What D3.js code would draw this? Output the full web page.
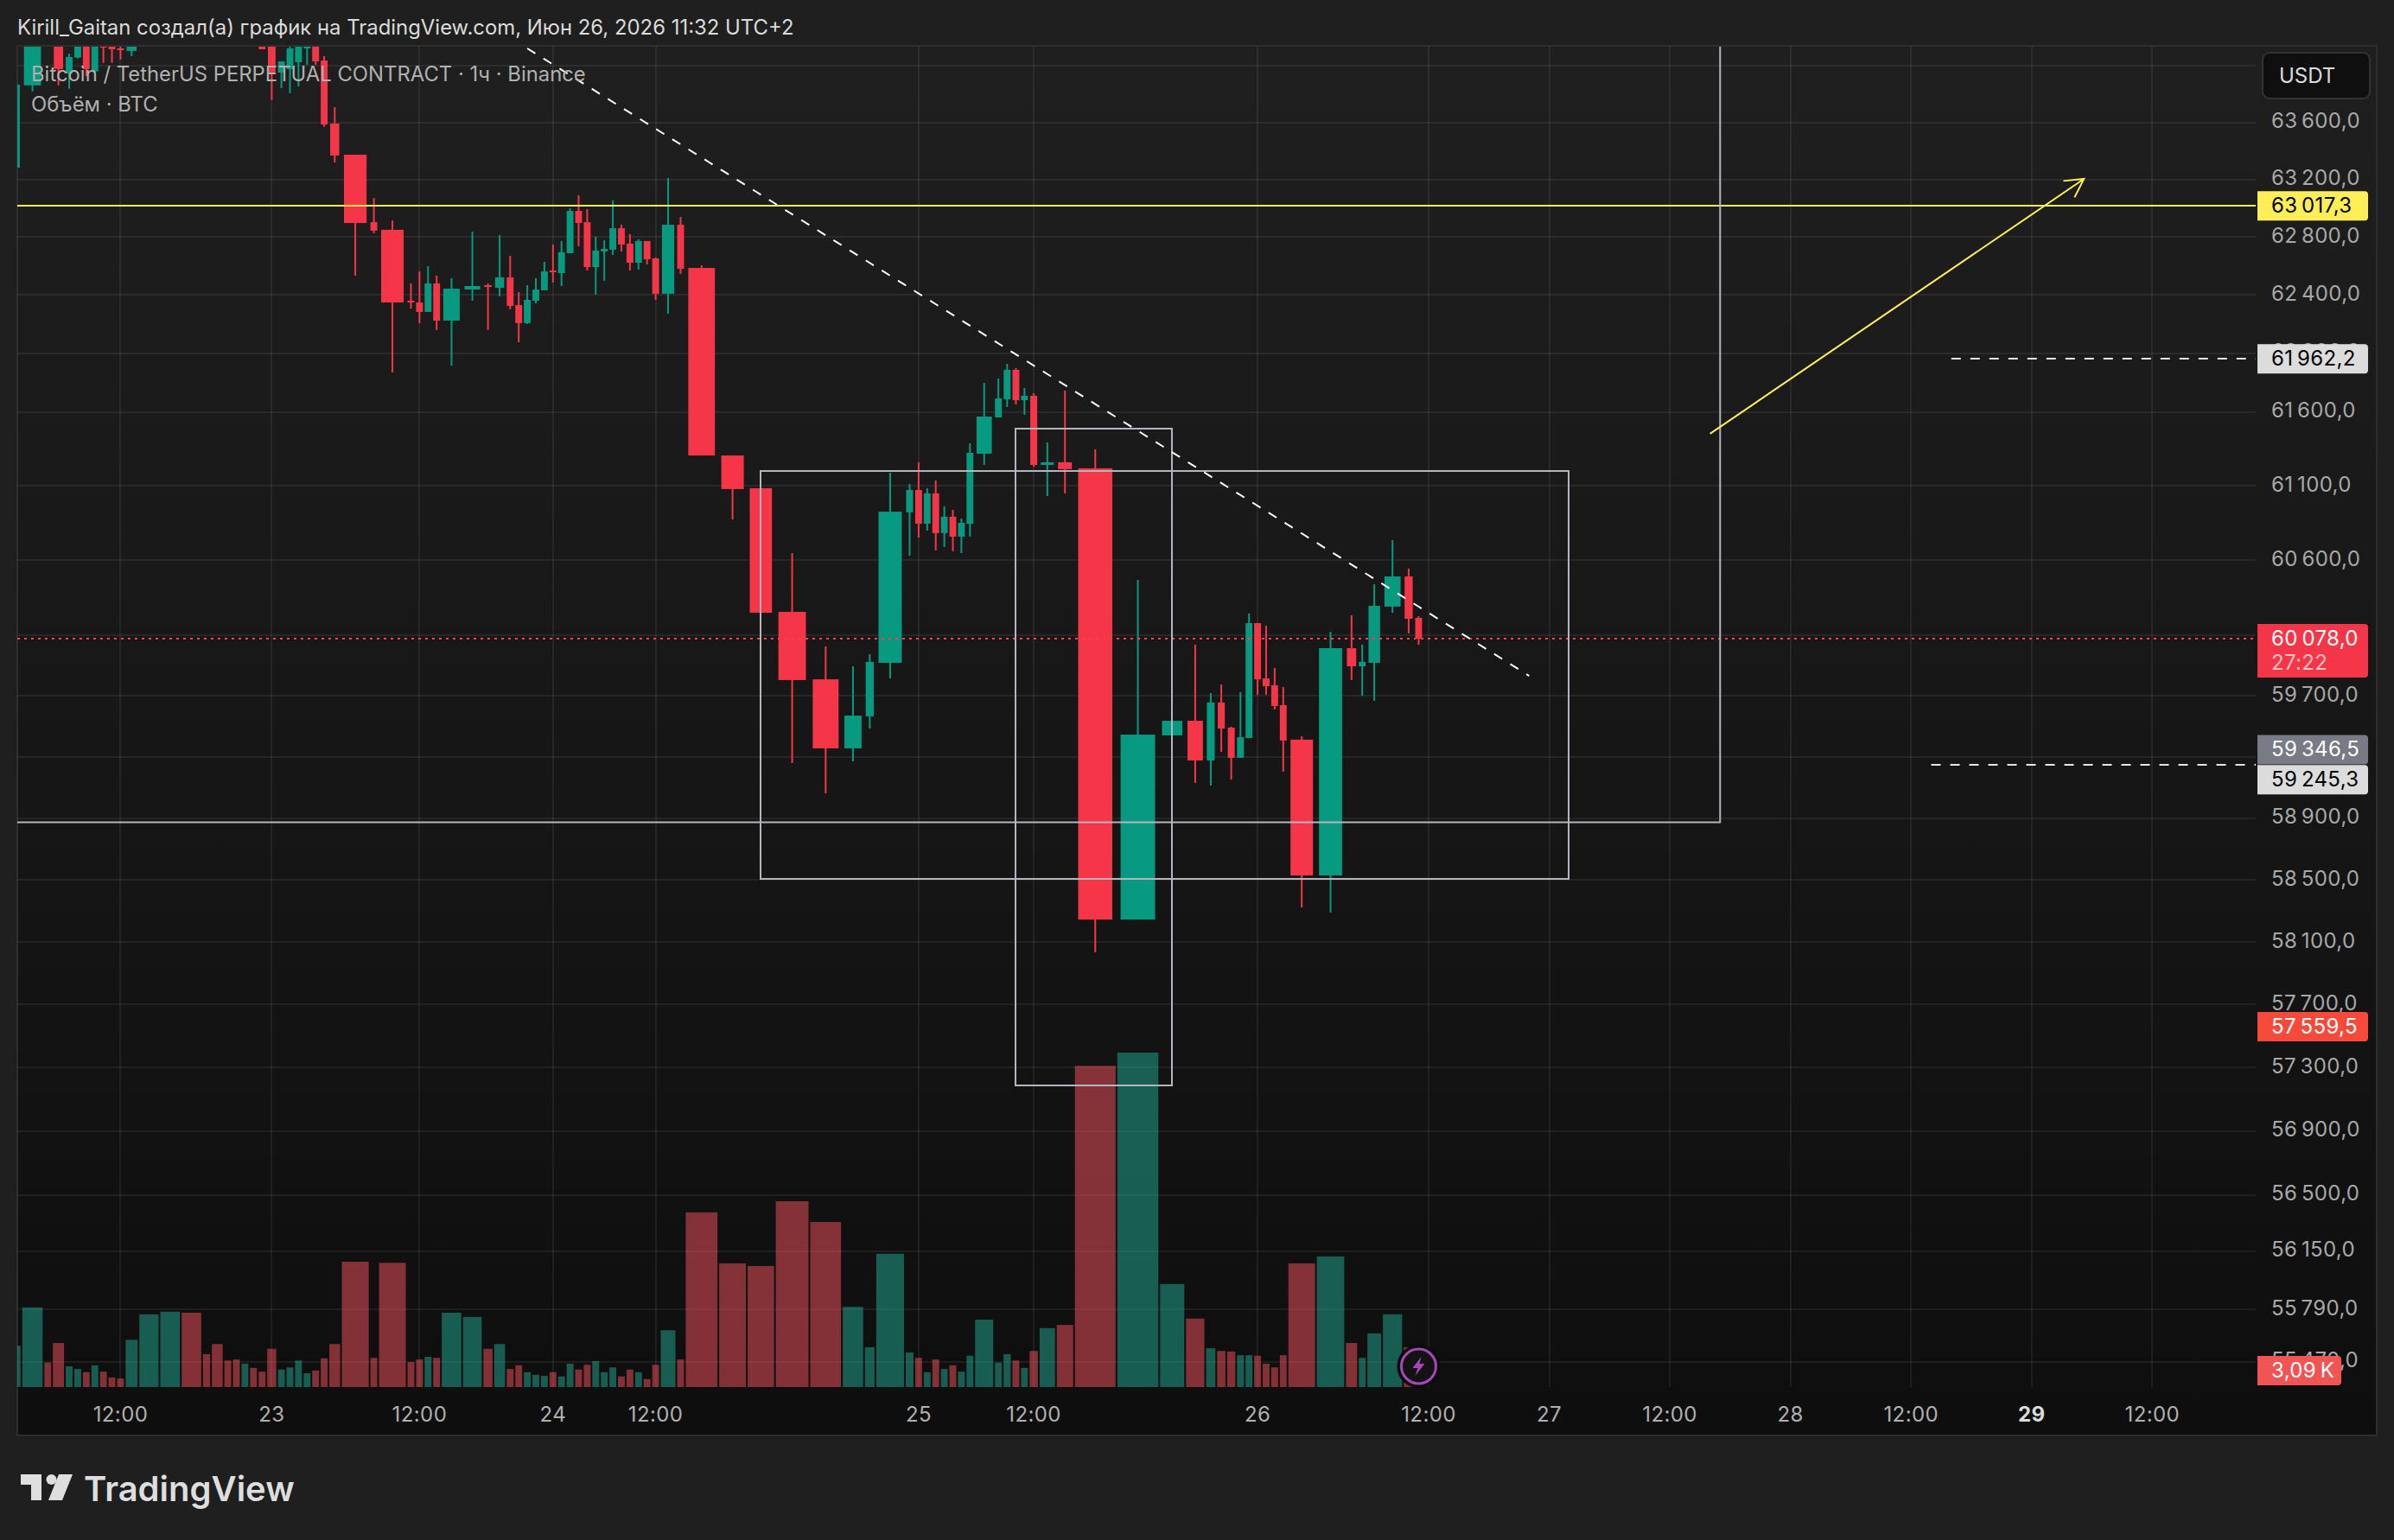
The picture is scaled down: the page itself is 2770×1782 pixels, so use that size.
<!DOCTYPE html>
<html>
<head>
<meta charset="utf-8">
<script src="https://d3js.org/d3.v7.min.js"></script>
<style>
  html, body { margin: 0; padding: 0; background: #1f1f1f; }
  svg { display: block; }
  text { font-family: Inter, "Noto Sans", sans-serif; }
</style>
</head>
<body>
<svg width="2770" height="1782"></svg>
<script>
// hourly BTC candles, first bar is Jun 22 02:00
let opens = [63284,63861,64350,64250,63945,64057,64150,63959,64170,64140,
  64122,64104,64260,64500,64760,64520,64460,64340,64290,64240,
  64300,64240,64240,63951,63975,64024,64122,64160,64036,63592,
  63374,62904,62851,62361,62349,62284,62480,62224,62438,62468,
  62450,62522,62331,62207,62361,62433,62569,62551,62689,62982,
  62904,62593,62701,62713,62862,62755,62623,62773,62653,62409,
  62886,62587,61305,61084,60256,59809,59355,59565,59918,60921,
  61072,60845,61049,60782,60892,60758,60845,61317,61563,61686,
  61887,61680,61710,61241,61259,61218,58244,59440,59536,59276,
  59656,59491,59293,59423,60181,59815,59770,59639,59412,58528,
  60015,59895,59918,60291,60492,60216]
let closes = [63866,64220,64280,63976,64061,64200,63975,64160,64128,64116,
  64114,64180,64500,64760,64520,64460,64340,64290,64240,64300,
  64240,64116,63945,64030,64122,64180,64160,64030,63586,63368,
  62898,62845,62349,62349,62284,62480,62224,62444,62462,62456,
  62522,62325,62207,62367,62438,62563,62557,62695,62982,62898,
  62593,62707,62719,62862,62749,62623,62773,62647,62409,62886,
  62581,61305,61078,60250,59804,59355,59570,59924,60926,61072,
  60845,61049,60782,60892,60758,60851,61323,61569,61692,61887,
  61680,61710,61241,61259,61212,58244,59445,59536,59276,59656,
  59485,59293,59428,60181,59809,59764,59633,59406,58528,60015,
  59895,59924,60296,60492,60210,60078]
let highs = [63866,64300,64420,64280,64085,64260,64190,64200,64210,64200,
  64170,64220,64580,64800,64800,64580,64500,64400,64340,64330,
  64340,64260,64260,64030,64150,64220,64190,64190,64067,63707,
  63374,63072,62916,62480,62563,62599,62534,62516,62839,62480,
  62815,62671,62421,62468,62516,62629,62749,62773,63000,63091,
  62994,62803,62779,63055,62886,62821,62785,62773,62659,63211,
  62940,62605,61305,61084,60648,60027,59895,59975,61188,61113,
  61259,61084,61136,60962,60938,60880,61387,61798,61828,61928,
  61899,61763,61728,61393,61745,61346,60469,59536,60038,59718,
  59775,59497,59724,60245,60181,60164,59884,59758,59434,60124,
  60233,60038,60440,60735,60544,60227]
let lows = [63284,63819,64250,63861,63837,64051,63926,63950,64020,64020,
  64043,64067,64200,64440,64450,64420,64300,64250,64200,64190,
  64210,64116,63758,63841,63806,63853,64006,64006,63570,63320,
  62534,62827,61869,62307,62207,62284,62159,61916,62361,62159,
  62391,62302,62076,62201,62343,62433,62486,62462,62689,62737,
  62569,62403,62498,62677,62701,62569,62575,62611,62367,62272,
  62546,61305,60874,60250,59259,59061,59270,59485,59815,60631,
  60752,60799,60666,60689,60660,60648,60758,61241,61563,61634,
  61651,61581,61229,61031,61049,58034,58244,59440,59129,59112,
  59332,59151,59293,59423,59707,59707,59611,59202,58322,58289,
  59804,59701,59667,60250,60113,60038]
// volume in thousands of BTC
let volumes = [7.8,15.0,4.6,8.3,3.9,3.4,2.8,4.1,2.9,1.8,
  1.6,8.9,13.7,14.2,14.0,6.2,8.1,5.0,5.2,4.4,
  3.6,2.9,7.2,3.3,3.7,5.0,2.6,3.1,5.4,8.1,
  23.6,5.5,23.4,4.7,5.2,5.7,5.5,14.0,13.2,7.2,
  8.1,3.4,4.1,2.8,2.3,2.1,2.8,2.0,4.4,3.3,
  4.2,4.9,2.8,3.7,2.0,3.3,2.8,1.5,4.2,10.7,
  5.2,32.9,23.3,22.8,35.0,31.1,15.1,7.5,25.1,6.5,
  5.5,2.8,5.2,3.4,4.1,2.9,5.9,12.7,4.6,6.2,
  5.0,3.6,6.8,11.1,11.7,60.5,63.0,19.4,12.9,7.3,
  6.8,6.7,6.0,6.0,5.9,4.4,3.7,6.0,23.3,24.6,
  8.3,5.5,10.1,13.7,7.5,3.09]

// candle width follows volume on this chart type
let widthVolumes = [0,6.0,7.2,8.2,9,10.7,12.7,14,15,19.4,23.4,25,32.9,35,60,63]
let widthPixels = [7.9,7.9,10.5,12.7,14,17,21,22.6,23.5,28,31,32,36.7,37.9,47,47.5]

let priceTicks = [64000,63600,63200,62800,62400,62000,61600,61100,60600,60100,59700,59300,
  58900,58500,58100,57700,57300,56900,56500,56150,55790,55470]
// these three sit fully under the button and the tags
let coveredTicks = [64000,60100,59300]
let timeTickHours = [10,22,34,46,58,70,82,94,106,118,130,142,154,166,178]
let timeTickLabels = ["12:00","23","12:00","24","12:00","25","12:00","26","12:00","27","12:00","28","12:00","29","12:00"]

// the user's drawings: [hour, price]
let rectA = [[63,61200],[120,58506]]
let rectB = [[80,61488],[87,57187]]
let cornerLine = [[-5,58873],[135,58873],[135,65000]]
let trendLine = [[43,64122],[116,59832]]
let arrowLine = [[134,61452],[171.2,63205]]
let dashedLevels = [[158,61962.2],[156,59245.3]]
let yellowLevel = 63017.3
let lastPrice = 60078.0

let W = 2770, H = 1782
let plot = {left: 20, right: 2610, top: 53, bottom: 1661, frameRight: 2750}
let baseline = 1605

let svg = d3.select('svg')
let defs = svg.append('defs')

let grad = defs.append('linearGradient').attr('id', 'panelBg')
  .attr('x1', 0).attr('y1', 0).attr('x2', 0).attr('y2', 1)
grad.append('stop').attr('offset', 0).attr('stop-color', '#1f1f1f')
grad.append('stop').attr('offset', 1).attr('stop-color', '#0e0e0e')

defs.append('clipPath').attr('id', 'plotClip').append('rect')
  .attr('x', plot.left).attr('y', plot.top + 1)
  .attr('width', plot.right - plot.left).attr('height', plot.bottom - plot.top)

// scales
let y = d3.scaleLog().domain([63600, 55470]).range([141.7, 1575.7])
let yVol = d3.scaleLinear().domain([0, 63]).range([baseline, 1218])
let slotWidth = d3.scaleLinear().domain(widthVolumes).range(widthPixels).clamp(true)

// running position of every bar along the axis
let gap = 2
let lefts = [], pos = 12
volumes.forEach(function(v) {
  lefts.push(pos)
  pos += slotWidth(v) + gap
})
let centers = volumes.map(function(v, i) { return lefts[i] + slotWidth(v) / 2 })
let hourPx = 11.63
let hoursDomain = volumes.map(function(v, i) { return i }).concat([106, 190])
let firstEmpty = 1653
let x = d3.scaleLinear().domain(hoursDomain)
  .range(centers.concat([firstEmpty, firstEmpty + (190 - 106) * hourPx]))

// background and frame
svg.append('rect').attr('width', W).attr('height', H).attr('fill', '#1f1f1f')
svg.append('rect').attr('x', plot.left).attr('y', plot.top)
  .attr('width', plot.frameRight - plot.left).attr('height', plot.bottom - plot.top)
  .attr('fill', 'url(#panelBg)').attr('stroke', '#2e2e2e').attr('stroke-width', 2)

// grid
let gridColor = 'rgba(255,255,255,0.065)'
svg.append('g').selectAll('line').data(priceTicks).enter().append('line')
  .attr('x1', plot.left).attr('x2', plot.right)
  .attr('y1', function(d) { return Math.round(y(d)) })
  .attr('y2', function(d) { return Math.round(y(d)) })
  .attr('stroke', gridColor).attr('stroke-width', 2)
svg.append('g').selectAll('line').data(timeTickHours).enter().append('line')
  .attr('x1', function(d) { return Math.round(x(d)) })
  .attr('x2', function(d) { return Math.round(x(d)) })
  .attr('y1', plot.top).attr('y2', baseline)
  .attr('stroke', gridColor).attr('stroke-width', 2)

let chart = svg.append('g').attr('clip-path', 'url(#plotClip)')

// volume bars
chart.append('g').selectAll('rect').data(volumes).enter().append('rect')
  .attr('x', function(d, i) { return lefts[i] })
  .attr('width', function(d) { return slotWidth(d) })
  .attr('y', function(d) { return yVol(d) })
  .attr('height', function(d) { return baseline - yVol(d) })
  .attr('fill', function(d, i) { return closes[i] >= opens[i] ? 'rgba(34,171,148,0.5)' : 'rgba(247,82,95,0.5)' })

// candles
let upColor = '#089a80', downColor = '#f43648'
let candleColor = function(i) { return closes[i] >= opens[i] ? upColor : downColor }
let bodyWidth = function(v) {
  let s = slotWidth(v)
  return Math.min(s, Math.max(8, s * 0.84))
}
chart.append('g').selectAll('rect').data(volumes).enter().append('rect')
  .attr('x', function(d, i) { return centers[i] - 1 })
  .attr('width', 2)
  .attr('y', function(d, i) { return y(highs[i]) })
  .attr('height', function(d, i) { return y(lows[i]) - y(highs[i]) })
  .attr('fill', function(d, i) { return candleColor(i) })
chart.append('g').selectAll('rect').data(volumes).enter().append('rect')
  .attr('x', function(d, i) { return centers[i] - bodyWidth(d) / 2 })
  .attr('width', function(d) { return bodyWidth(d) })
  .attr('y', function(d, i) { return y(Math.max(opens[i], closes[i])) })
  .attr('height', function(d, i) { return Math.max(2, Math.abs(y(opens[i]) - y(closes[i]))) })
  .attr('fill', function(d, i) { return candleColor(i) })

// drawings on top of the candles
let drawings = svg.append('g').attr('clip-path', 'url(#plotClip)').attr('fill', 'none').attr('stroke-width', 2)
let lineGen = d3.line().x(function(d) { return x(d[0]) }).y(function(d) { return y(d[1]) })
let grey = '#b4b6be'

drawings.append('line')
  .attr('x1', plot.left).attr('x2', plot.right)
  .attr('y1', Math.round(y(lastPrice))).attr('y2', Math.round(y(lastPrice)))
  .attr('stroke', '#ff3a4c').attr('stroke-dasharray', '3 5')

drawings.append('line')
  .attr('x1', plot.left).attr('x2', plot.right)
  .attr('y1', Math.round(y(yellowLevel))).attr('y2', Math.round(y(yellowLevel)))
  .attr('stroke', '#ffee58')

;[rectA, rectB].forEach(function(r) {
  drawings.append('rect')
    .attr('x', Math.round(x(r[0][0]))).attr('y', Math.round(y(r[0][1])))
    .attr('width', Math.round(x(r[1][0]) - x(r[0][0]))).attr('height', Math.round(y(r[1][1]) - y(r[0][1])))
    .attr('stroke', grey)
})
drawings.append('path').attr('d', lineGen(cornerLine)).attr('stroke', grey)

drawings.append('path').attr('d', lineGen(trendLine))
  .attr('stroke', '#ffffff').attr('stroke-dasharray', '11 11')

dashedLevels.forEach(function(d) {
  drawings.append('line')
    .attr('x1', x(d[0])).attr('x2', plot.right)
    .attr('y1', Math.round(y(d[1]))).attr('y2', Math.round(y(d[1])))
    .attr('stroke', '#e6e6e6').attr('stroke-dasharray', '11 11')
})

// yellow arrow with an open head
let ax = x(arrowLine[0][0]), ay = y(arrowLine[0][1]), bx = x(arrowLine[1][0]), by = y(arrowLine[1][1])
let angle = Math.atan2(by - ay, bx - ax)
let headLen = 24
drawings.append('path').attr('stroke', '#ffee58')
  .attr('d', 'M' + ax + ',' + ay + 'L' + bx + ',' + by +
    'M' + (bx - headLen * Math.cos(angle - 0.5)) + ',' + (by - headLen * Math.sin(angle - 0.5)) +
    'L' + bx + ',' + by +
    'L' + (bx - headLen * Math.cos(angle + 0.5)) + ',' + (by - headLen * Math.sin(angle + 0.5)))

// lightning mark on the last bar
let boltX = x(105), boltY = 1581
let bolt = svg.append('g').attr('transform', 'translate(' + boltX + ',' + boltY + ')')
bolt.append('circle').attr('r', 22).attr('fill', '#131313').attr('stroke', '#0b0b0b').attr('stroke-width', 6)
bolt.append('circle').attr('r', 20).attr('fill', 'none').attr('stroke', '#a845bb').attr('stroke-width', 3)
bolt.append('path').attr('d', 'M3,-11 L-7,2 L-1,2 L-4,11 L7,-3 L1,-3 Z').attr('fill', '#a845bb')

// price axis labels
let ru = d3.formatLocale({decimal: ',', thousands: '\u2009', grouping: [3], currency: ['', '']})
let fmtPrice = ru.format(',.1f')
let labelX = 2628
let axisText = function(sel) {
  return sel.attr('dominant-baseline', 'central').attr('font-size', 24).attr('letter-spacing', 0.35)
}
axisText(svg.append('g').selectAll('text')
  .data(priceTicks.filter(function(d) { return coveredTicks.indexOf(d) < 0 })).enter().append('text'))
  .attr('x', labelX)
  .attr('y', function(d) { return y(d) - 2 })
  .attr('fill', '#a8a8a8')
  .text(function(d) { return fmtPrice(d) })

// time axis labels
svg.append('g').selectAll('text').data(timeTickHours).enter().append('text')
  .attr('x', function(d) { return x(d) })
  .attr('y', 1636.5)
  .attr('text-anchor', 'middle')
  .attr('dominant-baseline', 'central')
  .attr('font-size', 24)
  .attr('letter-spacing', 0.4)
  .attr('font-weight', function(d, i) { return timeTickLabels[i] === '29' ? 700 : 400 })
  .attr('fill', function(d, i) { return timeTickLabels[i] === '29' ? '#dbdbdb' : '#b0b0b0' })
  .text(function(d, i) { return timeTickLabels[i] })

// price tags on the axis
let tags = [
  {text: fmtPrice(63017.3), price: 63017.3, fill: '#ffee58', ink: '#000000', shift: 0},
  {text: fmtPrice(61962.2), price: 61962.2, fill: '#dcdcdc', ink: '#000000', shift: 0},
  {text: fmtPrice(59346.5), price: 59346.5, fill: '#787b86', ink: '#ffffff', shift: 0},
  {text: fmtPrice(59245.3), price: 59245.3, fill: '#dcdcdc', ink: '#000000', shift: 17},
  {text: fmtPrice(57559.5), price: 57559.5, fill: '#f74a3a', ink: '#ffffff', shift: 0}
]
let tagPath = function(x0, y0, w, h) {
  let r = 4
  return 'M' + x0 + ',' + y0 + 'H' + (x0 + w - r) + 'Q' + (x0 + w) + ',' + y0 + ' ' + (x0 + w) + ',' + (y0 + r) +
    'V' + (y0 + h - r) + 'Q' + (x0 + w) + ',' + (y0 + h) + ' ' + (x0 + w - r) + ',' + (y0 + h) + 'H' + x0 + 'Z'
}
tags.forEach(function(t) {
  let cy = y(t.price) + t.shift
  svg.append('path').attr('d', tagPath(2612, cy - 17, 128, 34)).attr('fill', t.fill)
  axisText(svg.append('text')).attr('x', labelX).attr('y', cy - 1).attr('fill', t.ink).text(t.text)
})

// last price with the countdown
let lastY = y(lastPrice)
svg.append('path').attr('d', tagPath(2612, lastY - 17, 128, 62)).attr('fill', '#f43648')
axisText(svg.append('text')).attr('x', labelX).attr('y', lastY - 1).attr('fill', '#ffffff').text(fmtPrice(lastPrice))
axisText(svg.append('text')).attr('x', labelX).attr('y', lastY + 27).attr('fill', '#ffc0c6').text('27:22')

// volume tag
svg.append('path').attr('d', tagPath(2612, yVol(volumes[105]) - 17, 97, 34)).attr('fill', '#f05454')
axisText(svg.append('text')).attr('x', labelX).attr('y', yVol(volumes[105]) - 1).attr('fill', '#ffffff').text('3,09\u2009K')

// currency button
svg.append('rect').attr('x', 2618).attr('y', 61).attr('width', 124).attr('height', 53).attr('rx', 8)
  .attr('fill', '#0f0f0f').attr('stroke', '#333333').attr('stroke-width', 2)
svg.append('text').attr('x', 2637).attr('y', 87).attr('dominant-baseline', 'central')
  .attr('font-size', 24).attr('fill', '#dbdbdb').text('USDT')

// header and legend
svg.append('text').attr('x', 20).attr('y', 31).attr('dominant-baseline', 'central')
  .attr('font-size', 23.9).attr('fill', '#dbdbdb')
  .text('Kirill_Gaitan создал(а) график на TradingView.com, Июн 26, 2026 11:32 UTC+2')
svg.append('text').attr('x', 36).attr('y', 85.5).attr('dominant-baseline', 'central')
  .attr('font-size', 23.85).attr('fill', '#b0b0b0')
  .text('Bitcoin / TetherUS PERPETUAL CONTRACT · 1ч · Binance')
svg.append('text').attr('x', 36).attr('y', 120).attr('dominant-baseline', 'central')
  .attr('font-size', 23.85).attr('fill', '#b0b0b0')
  .text('Объём · BTC')

// logo
let logo = svg.append('g').attr('fill', '#dedede')
logo.append('path').attr('d', 'M24,1706 H48 V1736 H36 V1718 H24 Z')
logo.append('circle').attr('cx', 59.5).attr('cy', 1712).attr('r', 6)
logo.append('path').attr('d', 'M68,1706 H84 L72,1736 H56 Z')
logo.append('text').attr('x', 97).attr('y', 1737).attr('font-size', 40).attr('font-weight', 600)
  .text('TradingView')
</script>
</body>
</html>
